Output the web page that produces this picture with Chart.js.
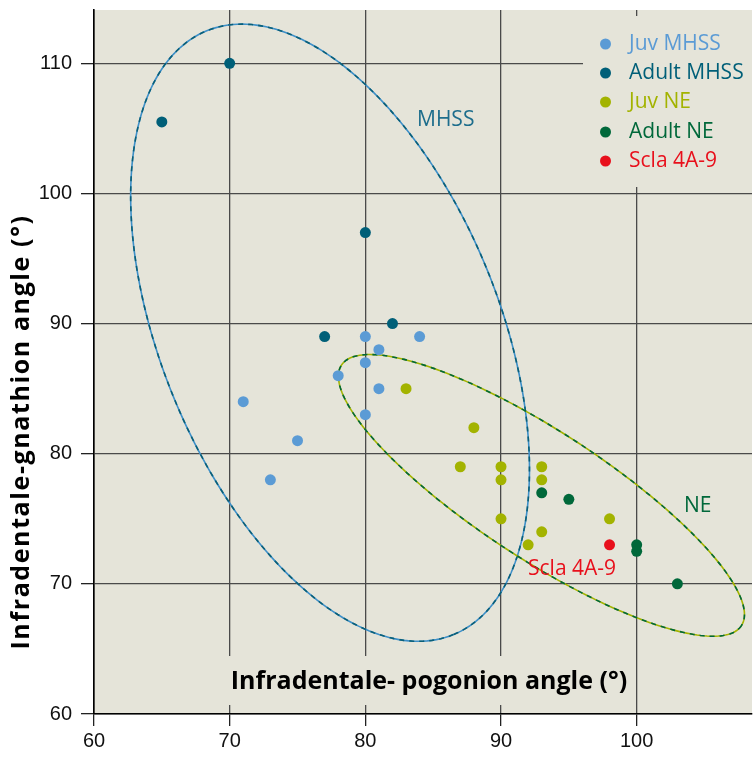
<!DOCTYPE html>
<html>
<head>
<meta charset="utf-8">
<script src="https://cdn.jsdelivr.net/npm/chart.js@4"></script>
<style>
  html, body { margin: 0; padding: 0; background: #fff; }
</style>
</head>
<body>
<canvas id="chart" width="753" height="761"></canvas>
<script>
// Axis ticks
const xTicks = [60, 70, 80, 90, 100];
const yTicks = [60, 70, 80, 90, 100, 110];

// Series (x = infradentale-pogonion, y = infradentale-gnathion)
const juvMhssX = [80, 84, 81, 80, 78, 81, 71, 80, 75, 73];
const juvMhssY = [89, 89, 88, 87, 86, 85, 84, 83, 81, 78];
const adultMhssX = [70, 65, 80, 77, 82];
const adultMhssY = [110, 105.5, 97, 89, 90];
const juvNeX = [83, 88, 87, 90, 90, 93, 93, 90, 98, 93, 92];
const juvNeY = [85, 82, 79, 79, 78, 79, 78, 75, 75, 74, 73];
const adultNeX = [93, 95, 100, 100, 103];
const adultNeY = [77, 76.5, 73, 72.5, 70];
const sclaX = [98];
const sclaY = [73];

const seriesNames = ['Juv MHSS', 'Adult MHSS', 'Juv NE', 'Adult NE', 'Scla 4A-9'];
const seriesColors = ['#5b9bd5', '#005f78', '#a3b300', '#00683a', '#e8101c'];

// Group ellipses: centre and two conjugate semi-axis vectors, in data units
const mhssCenter = [77.4, 89.3];
const mhssAxisA = [9.09, -23.2];
const mhssAxisB = [-11.55, -4.91];
const neCenter = [92.98, 76.8];
const neAxisA = [14.74, -10.01];
const neAxisB = [-2.58, -4.12];

const plotBg = '#e5e4d9';
const textFont = '"Open Sans", "Noto Sans", sans-serif';

function points(xs, ys) {
  return xs.map((x, i) => ({ x: x, y: ys[i] }));
}

const allX = [juvMhssX, adultMhssX, juvNeX, adultNeX, sclaX];
const allY = [juvMhssY, adultMhssY, juvNeY, adultNeY, sclaY];

const datasets = seriesNames.map((name, i) => ({
  label: name,
  data: points(allX[i], allY[i]),
  backgroundColor: seriesColors[i],
  borderWidth: 0,
  pointRadius: 5.5
}));

function traceEllipse(chart, c, a, b) {
  const xs = chart.scales.x, ys = chart.scales.y;
  const ctx = chart.ctx;
  ctx.beginPath();
  for (let i = 0; i <= 240; i++) {
    const t = i / 240 * Math.PI * 2;
    const vx = c[0] + a[0] * Math.cos(t) + b[0] * Math.sin(t);
    const vy = c[1] + a[1] * Math.cos(t) + b[1] * Math.sin(t);
    const px = xs.getPixelForValue(vx), py = ys.getPixelForValue(vy);
    if (i === 0) ctx.moveTo(px, py); else ctx.lineTo(px, py);
  }
  ctx.closePath();
}

function drawEllipse(chart, c, a, b, col1, col2) {
  const ctx = chart.ctx;
  ctx.save();
  ctx.lineWidth = 1.6;
  traceEllipse(chart, c, a, b);
  ctx.strokeStyle = col1;
  ctx.stroke();
  ctx.setLineDash([5, 5]);
  ctx.strokeStyle = col2;
  ctx.stroke();
  ctx.restore();
}

const decorPlugin = {
  id: 'decor',
  beforeDraw(chart) {
    const { ctx, chartArea: a } = chart;
    ctx.save();
    ctx.fillStyle = plotBg;
    ctx.fillRect(a.left, a.top, a.right - a.left, a.bottom - a.top);
    ctx.restore();
  },
  beforeDatasetsDraw(chart) {
    const { ctx, chartArea: a } = chart;
    // boxes behind legend and x title hide the grid
    ctx.save();
    ctx.fillStyle = plotBg;
    ctx.fillRect(583, 16, a.right - 583, 171);
    ctx.fillRect(226, 656, 408, 49);
    ctx.restore();
    drawEllipse(chart, mhssCenter, mhssAxisA, mhssAxisB, '#3d8fc8', '#0a5f78');
    drawEllipse(chart, neCenter, neAxisA, neAxisB, '#a3b300', '#00683a');
  },
  afterDraw(chart) {
    const ctx = chart.ctx;
    ctx.save();
    // legend
    ctx.textBaseline = 'middle';
    ctx.textAlign = 'left';
    ctx.font = '21px ' + textFont;
    const rowY = [44, 73, 102, 132, 161];
    seriesNames.forEach((name, i) => {
      ctx.fillStyle = seriesColors[i];
      ctx.beginPath();
      ctx.arc(605.5, rowY[i], 5.5, 0, Math.PI * 2);
      ctx.fill();
      ctx.fillText(name, 629, rowY[i]);
    });
    // group labels
    ctx.fillStyle = '#1d6d8c';
    ctx.fillText('MHSS', 417, 120);
    ctx.fillStyle = '#00683a';
    ctx.fillText('NE', 684, 506);
    ctx.fillStyle = '#e8101c';
    ctx.fillText('Scla 4A-9', 528, 569);
    // axis titles
    ctx.fillStyle = '#000';
    ctx.font = 'bold 25px ' + textFont;
    ctx.textAlign = 'center';
    ctx.fillText('Infradentale- pogonion angle (°)', 429, 682);
    ctx.translate(22, 432);
    ctx.rotate(-Math.PI / 2);
    ctx.letterSpacing = '1.6px';
    ctx.fillText('Infradentale-gnathion angle (°)', 0, 0);
    ctx.restore();
  }
};

const tickFont = { family: '"Liberation Sans", Arial, sans-serif', size: 20 };

new Chart(document.getElementById('chart'), {
  type: 'scatter',
  data: { datasets: datasets },
  options: {
    responsive: false,
    animation: false,
    layout: { autoPadding: false, padding: { top: 10, right: 1, left: 0, bottom: 0 } },
    plugins: {
      legend: { display: false },
      tooltip: { enabled: false }
    },
    scales: {
      x: {
        type: 'linear',
        min: 60,
        max: 108.5,
        afterBuildTicks: s => { s.ticks = xTicks.map(v => ({ value: v })); },
        afterFit: s => { s.height = 47; s.paddingLeft = 0; s.paddingRight = 0; },
        grid: { color: '#4a4a4a', lineWidth: 1.3, tickLength: 12, tickColor: '#222' },
        border: { color: '#000', width: 1.6 },
        ticks: { color: '#111', font: tickFont, padding: 3, maxRotation: 0 }
      },
      y: {
        type: 'linear',
        min: 60,
        max: 114.1,
        afterBuildTicks: s => { s.ticks = yTicks.map(v => ({ value: v })); },
        afterFit: s => { s.width = 94; s.paddingTop = 0; s.paddingBottom = 0; },
        grid: { color: '#4a4a4a', lineWidth: 1.3, tickLength: 13, tickColor: '#222' },
        border: { color: '#000', width: 1.6 },
        ticks: { color: '#111', font: tickFont, padding: 9 }
      }
    }
  },
  plugins: [decorPlugin]
});
</script>
</body>
</html>
